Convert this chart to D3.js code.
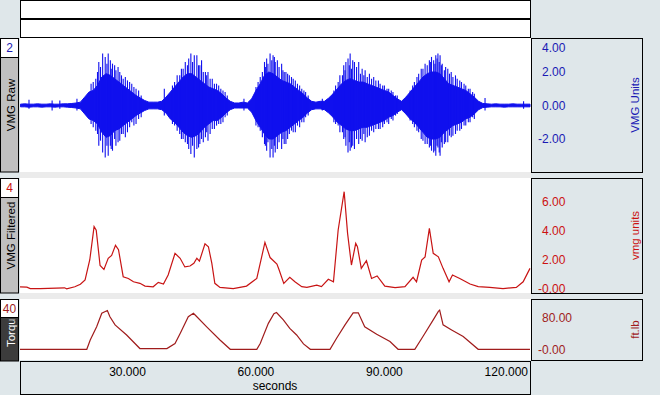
<!DOCTYPE html>
<html>
<head>
<meta charset="utf-8">
<script src="https://d3js.org/d3.v7.min.js"></script>
<style>
  body { margin: 0; background: #dfe7ea; }
  svg { display: block; }
</style>
</head>
<body>
<div id="chart"></div>
<script>
// ---- data ----
// VMG Raw : dense core of the raw signal, one sample per second
var rawTime = [5,6,7,8,9,10,11,12,13,14,15,16,17,18,19,
  20,21,22,23,24,25,26,27,28,29,30,31,32,33,34,
  35,36,37,38,39,40,41,42,43,44,45,46,47,48,49,
  50,51,52,53,54,55,56,57,58,59,60,61,62,63,64,
  65,66,67,68,69,70,71,72,73,74,75,76,77,78,79,
  80,81,82,83,84,85,86,87,88,89,90,91,92,93,94,
  95,96,97,98,99,100,101,102,103,104,105,106,107,108,109,
  110,111,112,113,114,115,116,117,118,119,120,121,122,123,124];
var rawHi = [0.08,0.1,0.08,0.08,0.1,0.08,0.08,0.1,0.08,0.08,0.1,0.1,0.12,0.15,0.2,
  0.5,0.8,0.9,1.2,1.7,1.9,1.8,1.6,1.4,1.2,1.0,0.8,0.6,0.45,0.3,
  0.2,0.2,0.2,0.25,0.5,0.8,1.1,1.4,1.7,1.9,1.9,1.7,1.5,1.3,1.1,
  1.0,0.9,0.7,0.45,0.25,0.15,0.15,0.2,0.15,0.4,0.9,1.3,1.8,2.0,1.9,
  1.7,1.5,1.4,1.3,1.1,0.9,0.7,0.45,0.25,0.2,0.25,0.25,0.45,0.7,1.0,
  1.3,1.5,1.6,1.5,1.4,1.4,1.3,1.2,1.1,1.0,0.9,0.8,0.6,0.4,0.25,
  0.5,0.8,1.1,1.4,1.7,1.9,2.0,2.0,1.9,1.6,1.3,1.2,1.1,1.0,0.9,
  0.7,0.5,0.25,0.12,0.1,0.08,0.1,0.08,0.08,0.08,0.1,0.08,0.08,0.08,0.08];
var rawLo = [-0.08,-0.08,-0.1,-0.08,-0.08,-0.1,-0.08,-0.08,-0.1,-0.08,-0.08,-0.1,-0.12,-0.15,-0.2,
  -0.5,-0.8,-0.9,-1.1,-1.6,-1.9,-1.8,-1.5,-1.4,-1.2,-1.0,-0.8,-0.6,-0.45,-0.3,
  -0.2,-0.2,-0.2,-0.25,-0.45,-0.8,-1.0,-1.3,-1.6,-1.8,-1.9,-1.8,-1.6,-1.3,-1.1,
  -0.9,-0.9,-0.7,-0.45,-0.25,-0.15,-0.15,-0.15,-0.15,-0.4,-0.9,-1.3,-1.7,-2.0,-2.0,
  -1.8,-1.6,-1.5,-1.3,-1.1,-0.9,-0.7,-0.45,-0.25,-0.2,-0.2,-0.25,-0.45,-0.7,-1.0,
  -1.2,-1.4,-1.5,-1.5,-1.4,-1.3,-1.3,-1.2,-1.1,-1.0,-0.9,-0.7,-0.6,-0.4,-0.25,
  -0.5,-0.8,-1.0,-1.3,-1.6,-1.9,-2.0,-2.0,-1.9,-1.6,-1.4,-1.2,-1.1,-1.0,-0.8,
  -0.7,-0.5,-0.25,-0.12,-0.1,-0.08,-0.08,-0.08,-0.1,-0.08,-0.08,-0.08,-0.08,-0.08,-0.08];

// single spikes that stick out of the core
var spikeT = [7.0,12.4,14.2,18.2,
  21.5,22.6,23.3,24.2,24.8,25.5,26.0,26.5,27.3,27.8,28.6,29.5,30.5,31.5,32.6,38.6,
  40.5,41.6,42.6,43.5,44.3,44.8,45.6,46.2,46.9,47.3,48.2,48.8,49.8,50.8,51.8,52.8,57.2,
  60.5,61.5,62.0,62.5,63.3,64.0,64.5,65.0,66.0,66.6,67.0,67.8,68.7,69.7,70.7,71.6,75.5,
  78.6,79.6,80.5,81.0,81.5,82.0,82.6,83.0,84.0,84.8,85.5,86.5,87.5,88.6,89.6,90.6,91.6,92.6,
  96.6,97.6,98.6,99.5,100.5,101.0,101.5,102.0,102.5,103.0,103.5,104.3,104.8,105.6,106.6,107.6,108.6,109.6,110.6,
  113.5,122.5,
  22.0,23.0,23.7,25.2,26.2,27.0,28.2,29.0,30.0,31.0,32.0,33.2,
  41.0,42.2,43.0,44.0,45.2,46.6,47.7,48.5,49.3,50.3,51.3,52.3,53.3,
  60.0,61.0,62.2,62.8,63.7,64.3,65.4,66.3,67.4,68.3,69.2,70.2,71.2,72.2,
  78.2,79.2,80.2,80.8,81.8,82.3,83.5,84.4,85.2,86.0,87.0,88.0,89.0,90.0,91.0,92.0,93.0,
  96.0,97.0,98.0,99.0,100.0,100.8,101.8,102.3,102.8,103.3,104.0,105.2,106.0,107.0,108.0,109.0,110.0,111.0];
var spikeHi = [0.35,0.3,0.3,0.4,
  1.3,1.6,2.6,3.1,2.9,3.1,2.7,2.5,2.1,2.3,1.8,1.7,1.4,1.1,0.9,1.0,
  1.2,1.8,2.2,2.6,2.8,3.1,3.0,3.0,2.4,2.7,2.0,2.0,1.6,1.3,1.0,0.8,0.4,
  1.4,2.0,2.6,2.8,3.1,3.0,2.6,2.7,2.5,2.0,2.0,1.8,1.6,1.3,1.0,0.8,0.4,
  1.2,1.8,2.4,2.6,2.8,3.1,2.7,2.6,2.6,2.2,2.1,1.9,1.7,1.5,1.2,1.0,0.9,0.6,
  1.2,1.7,2.2,2.5,2.7,2.9,2.7,3.0,3.1,3.0,2.5,2.3,2.2,2.0,1.8,1.5,1.3,1.0,0.8,
  0.45,0.25,
  1.4,2.0,2.3,2.5,2.2,2.4,2.0,1.6,1.5,1.3,1.0,0.6,
  1.4,1.8,2.2,2.4,2.6,2.4,2.0,1.8,1.6,1.3,1.2,0.9,0.6,
  1.1,1.7,2.3,2.5,2.7,2.9,2.3,2.1,1.9,1.7,1.5,1.2,0.9,0.6,
  0.9,1.4,1.8,2.1,2.4,2.2,2.3,1.9,1.8,1.7,1.6,1.5,1.3,1.2,1.0,0.8,0.6,
  0.9,1.4,1.9,2.2,2.4,2.6,2.5,2.8,2.6,2.4,2.1,1.9,1.7,1.6,1.4,1.2,1.0,0.7];
var spikeLo = [-0.2,-0.3,-0.2,-0.3,
  -1.1,-1.5,-2.4,-2.8,-3.1,-3.0,-2.4,-2.7,-2.4,-2.2,-1.7,-1.9,-1.3,-1.2,-0.8,-0.6,
  -1.1,-1.5,-2.0,-2.2,-2.6,-2.9,-3.1,-2.6,-2.3,-2.0,-1.9,-2.1,-1.4,-1.2,-1.1,-0.7,-0.3,
  -1.3,-1.9,-2.3,-2.7,-3.1,-3.1,-2.8,-2.6,-2.6,-2.3,-2.3,-1.7,-1.6,-1.2,-1.0,-0.7,-0.3,
  -1.1,-1.6,-2.0,-2.4,-2.8,-2.7,-2.4,-2.6,-2.3,-2.1,-2.2,-1.8,-1.6,-1.4,-1.3,-1.0,-0.8,-0.6,
  -1.1,-1.5,-2.0,-2.3,-2.5,-2.7,-2.8,-3.0,-2.5,-3.0,-2.5,-2.2,-2.2,-1.9,-1.7,-1.5,-1.2,-1.0,-0.7,
  -0.3,-0.2,
  -1.3,-1.7,-2.1,-2.4,-2.6,-2.0,-2.1,-1.7,-1.6,-1.0,-1.1,-0.7,
  -1.2,-1.7,-2.0,-2.3,-2.4,-2.5,-2.2,-1.6,-1.7,-1.4,-1.1,-1.0,-0.6,
  -1.2,-1.5,-2.4,-2.2,-2.6,-2.4,-2.2,-2.0,-2.0,-1.5,-1.6,-1.3,-1.0,-0.6,
  -1.0,-1.2,-1.6,-1.9,-2.2,-2.5,-2.0,-2.0,-1.7,-1.9,-1.5,-1.4,-1.4,-1.1,-1.1,-0.9,-0.5,
  -0.9,-1.3,-1.6,-2.1,-2.3,-2.4,-2.7,-2.4,-2.8,-2.2,-2.3,-1.8,-1.8,-1.5,-1.4,-1.2,-1.0,-0.8];

// VMG Filtered
var filtTime = [4.9,6.5,7.3,9.6,15.3,15.8,17.7,19.0,20.1,21.2,22.2,22.7,23.6,24.5,25.5,26.3,27.2,27.9,
  29.0,30.2,31.4,32.9,34.1,36.0,37.2,38.4,39.5,41.1,42.3,43.4,44.6,45.5,46.2,46.8,48.1,48.9,49.7,
  50.4,51.6,54.7,57.8,60.2,62.1,63.3,64.9,65.4,66.5,67.9,69.1,70.7,71.9,74.2,75.3,76.9,78.1,
  79.2,80.6,81.4,82.3,83.3,83.7,84.6,85.8,87.0,88.3,90.1,92.5,94.8,96.7,97.5,98.7,99.5,100.5,
  101.4,102.6,103.7,105.1,105.9,107.6,110.0,111.9,114.6,117.7,120.8,122.4,124.0];
var filtVal = [0.12,0.1,0.0,0.0,0.05,-0.02,0.12,0.3,0.6,2.0,4.3,4.05,1.6,1.33,2.1,2.3,3.0,2.7,
  0.82,0.7,0.47,0.36,0.17,0.12,0.43,0.31,0.94,2.44,2.1,1.5,1.56,1.75,2.1,1.9,3.1,2.9,1.75,
  0.36,0.08,0.0,0.17,0.7,3.2,2.15,1.7,1.3,0.36,0.78,0.47,0.13,0.08,0.24,0.13,0.64,0.47,
  4.06,6.72,3.83,1.63,3.14,2.9,1.4,1.93,0.7,0.87,0.17,0.06,0.13,0.78,0.47,1.98,2.2,4.18,
  2.44,2.2,1.4,0.47,0.94,0.7,0.31,0.13,0.08,0.0,0.08,0.47,1.4];

// Torque
var torqTime = [4.9,20.5,21.3,22.8,24.0,24.7,25.3,25.9,27.1,29.8,32.9,39.2,41.1,42.3,44.2,45.4,46.2,48.5,
  51.6,54.0,60.2,61.0,62.9,64.2,64.8,66.4,67.9,69.5,71.1,72.7,77.3,78.8,80.8,82.7,83.9,85.4,
  88.2,91.3,93.2,97.1,99.0,101.4,102.6,102.9,103.7,105.7,108.4,111.9,124.0];
var torqVal = [0,0,24,58,93,97,100,84,63,37,2,2,15,41,84,93,84,58,
  24,0,0,15,67,92,95,76,54,37,14,0,0,28,63,94,94,58,
  39,20,0,0,33,76,98,101,63,50,33,0,0];

// axis ticks and labels
var xTicks = [30, 60, 90, 120];
var xTickText = ["30.000", "60.000", "90.000", "120.000"];
var rawTicks = [4, 2, 0, -2];
var rawTickText = ["4.00", "2.00", "0.00", "-2.00"];
var filtTicks = [6, 4, 2, 0];
var filtTickText = ["6.00", "4.00", "2.00", "-0.00"];
var torqTicks = [80, 0];
var torqTickText = ["80.00", "-0.00"];

// ---- layout ----
var W = 660, H = 395;
var FONT = "'Liberation Sans', Arial, sans-serif";
var BG = "#dfe7ea";

var svg = d3.select("#chart").append("svg")
  .attr("width", W)
  .attr("height", H)
  .style("background", BG)
  .style("font-family", FONT);

var x = d3.scaleLinear().domain([4.9, 124]).range([20, 530]);

var panels = [
  {top: 38, bot: 172, domain: [-3.97, 4.03], num: "2", name: "VMG Raw", unit: "VMG Units",
   ticks: rawTicks, labels: rawTickText, col: "#1a1ab4", nameBg: "#c0c0c0", nameFg: "#000"},
  {top: 178, bot: 293, domain: [-0.31, 7.67], num: "4", name: "VMG Filtered", unit: "vmg units",
   ticks: filtTicks, labels: filtTickText, col: "#cc1111", nameBg: "#c0c0c0", nameFg: "#000"},
  {top: 299, bot: 360, domain: [-27.6, 129.8], num: "40", name: "Torque", unit: "ft.lb",
   ticks: torqTicks, labels: torqTickText, col: "#a01c1c", nameBg: "#3c3c3c", nameFg: "#fff"}
];
panels.forEach(function(p) {
  p.y = d3.scaleLinear().domain(p.domain).range([p.bot, p.top]);
});

// top box (event marks strip)
svg.append("rect").attr("x", 20.5).attr("y", 0.5).attr("width", 510).attr("height", 37)
  .attr("fill", "#fff").attr("stroke", "#000");
svg.append("line").attr("x1", 20).attr("x2", 531).attr("y1", 19).attr("y2", 19)
  .attr("stroke", "#000").attr("stroke-width", 2);

// separators between panels
svg.append("rect").attr("x", 20).attr("y", 172).attr("width", 511).attr("height", 6).attr("fill", "#ebebeb");
svg.append("rect").attr("x", 20).attr("y", 293).attr("width", 511).attr("height", 6).attr("fill", "#ebebeb");

var defs = svg.append("defs");

panels.forEach(function(p, i) {
  // white plotting area
  svg.append("rect").attr("x", 20).attr("y", p.top).attr("width", 511).attr("height", p.bot - p.top)
    .attr("fill", "#fff");

  defs.append("clipPath").attr("id", "plot" + i)
    .append("rect").attr("x", 20).attr("y", p.top).attr("width", 511).attr("height", p.bot - p.top);

  // left column: channel number and name
  var numH = (i == 2) ? 18 : 19;
  svg.append("rect").attr("x", 0.5).attr("y", p.top + 0.5).attr("width", 18).attr("height", numH)
    .attr("fill", "#fff").attr("stroke", "#000");
  svg.append("text").attr("x", 9.5).attr("y", p.top + 14).attr("text-anchor", "middle")
    .attr("font-size", "12px").attr("fill", p.col).text(p.num);

  var ny = p.top + numH + 0.5;
  svg.append("rect").attr("x", 0.5).attr("y", ny).attr("width", 18).attr("height", p.bot - ny + (i == 2 ? 1 : 0))
    .attr("fill", p.nameBg).attr("stroke", "#000");
  defs.append("clipPath").attr("id", "name" + i)
    .append("rect").attr("x", 1).attr("y", ny + 2).attr("width", 17).attr("height", p.bot - ny - 2);
  svg.append("g").attr("clip-path", "url(#name" + i + ")")
    .append("text")
    .attr("transform", "translate(15," + ((p.top + p.bot) / 2) + ") rotate(-90)")
    .attr("text-anchor", "middle").attr("font-size", "11.5px").attr("fill", p.nameFg)
    .text(p.name);

  // right column: value labels and unit
  svg.append("rect").attr("x", 531.5).attr("y", p.top + 0.5).attr("width", 111).attr("height", p.bot - p.top)
    .attr("fill", BG).attr("stroke", "#000");
  var tg = svg.append("g");
  p.ticks.forEach(function(v, k) {
    var ty = Math.max(p.y(v), p.top + 10);
    var t = tg.append("text").attr("x", 542).attr("y", ty).attr("dy", "0.35em")
      .attr("font-size", "12px").attr("fill", p.col).text(p.labels[k]);
    if (p.labels[k].charAt(0) == "-") t.attr("x", 538);
  });
  svg.append("text")
    .attr("transform", "translate(639," + ((p.top + p.bot) / 2) + ") rotate(-90)")
    .attr("text-anchor", "middle").attr("font-size", "11.5px").attr("fill", p.col)
    .text(p.unit);
});

// ---- VMG Raw ----
var p0 = panels[0];
var rawRows = rawTime.map(function(t, i) { return {t: t, hi: rawHi[i], lo: rawLo[i]}; });
var g0 = svg.append("g").attr("clip-path", "url(#plot0)");
g0.append("path").datum(rawRows)
  .attr("d", d3.area()
    .x(function(d) { return x(d.t); })
    .y0(function(d) { return p0.y(d.lo); })
    .y1(function(d) { return p0.y(d.hi); }))
  .attr("fill", "#1010ee").attr("stroke", "#1010ee").attr("stroke-width", 1);
g0.selectAll("line.spike")
  .data(spikeT)
  .enter()
  .append("line")
  .attr("class", "spike")
  .attr("x1", function(d) { return x(d); })
  .attr("x2", function(d) { return x(d); })
  .attr("y1", function(d, i) { return p0.y(spikeHi[i]); })
  .attr("y2", function(d, i) { return p0.y(spikeLo[i]); })
  .attr("stroke", "#1010ee").attr("stroke-width", 1.1);

// ---- VMG Filtered ----
var p1 = panels[1];
svg.append("g").attr("clip-path", "url(#plot1)")
  .append("path").datum(filtTime)
  .attr("d", d3.line()
    .x(function(d) { return x(d); })
    .y(function(d, i) { return p1.y(filtVal[i]); }))
  .attr("fill", "none").attr("stroke", "#c81414").attr("stroke-width", 1.2);

// ---- Torque ----
var p2 = panels[2];
svg.append("g").attr("clip-path", "url(#plot2)")
  .append("path").datum(torqTime)
  .attr("d", d3.line()
    .x(function(d) { return x(d); })
    .y(function(d, i) { return p2.y(torqVal[i]); }))
  .attr("fill", "none").attr("stroke", "#a01c1c").attr("stroke-width", 1.2);

// ---- time axis ----
svg.append("rect").attr("x", 20.5).attr("y", 361.5).attr("width", 510).attr("height", 33)
  .attr("fill", BG).attr("stroke", "#000");
xTicks.forEach(function(t, k) {
  var lab = svg.append("text").attr("x", x(t)).attr("y", 376).attr("text-anchor", "middle")
    .attr("font-size", "12px").attr("fill", "#000").text(xTickText[k]);
  var w = lab.node().getComputedTextLength();
  if (x(t) + w / 2 > 528) lab.attr("x", 528 - w / 2);
});
svg.append("text").attr("x", 275).attr("y", 390).attr("text-anchor", "middle")
  .attr("font-size", "12px").attr("fill", "#000").text("seconds");
</script>
</body>
</html>
